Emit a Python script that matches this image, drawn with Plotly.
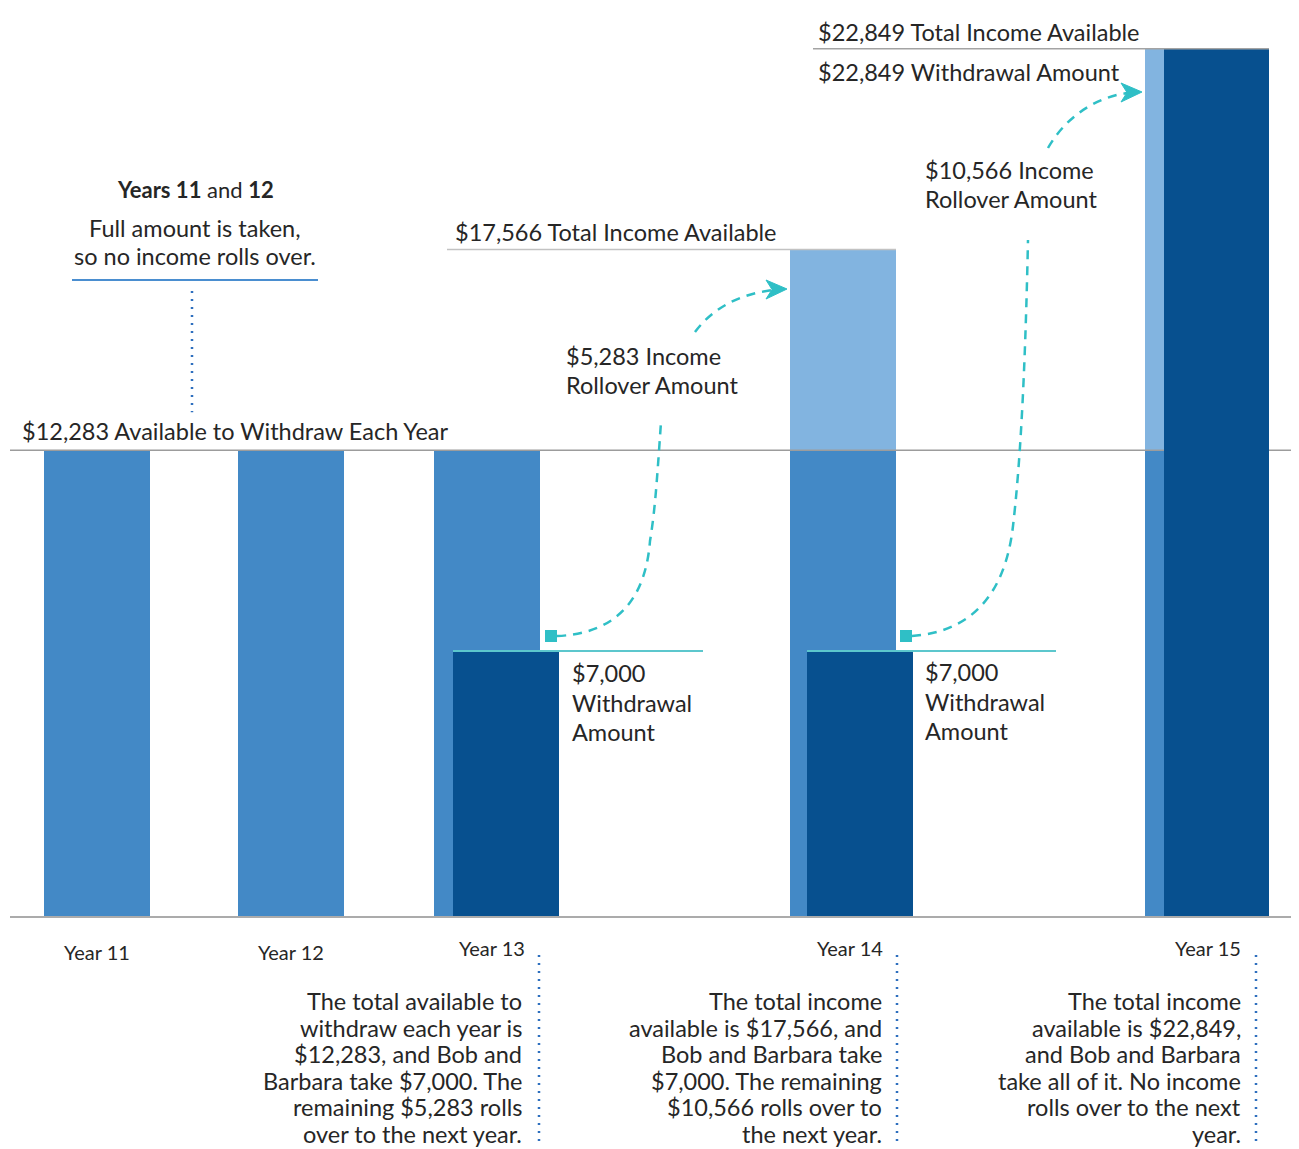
import plotly.graph_objects as go

# ---------------- data ----------------
YEARS = ["Year 11", "Year 12", "Year 13", "Year 14", "Year 15"]
AVAILABLE = [12283, 12283, 12283, 12283, 12283]      # amount available to withdraw each year
ROLLOVER_IN = [0, 0, 0, 5283, 10566]                 # income rolled over from previous year
WITHDRAWAL = [None, None, 7000, 7000, 22849]         # withdrawal amounts shown as separate bars
TOTAL = [a + r for a, r in zip(AVAILABLE, ROLLOVER_IN)]

DESCRIPTIONS = [
    None,
    None,
    "The total available to\nwithdraw each year is\n$12,283, and Bob and\nBarbara take $7,000. The\nremaining $5,283 rolls\nover to the next year.",
    "The total income\navailable is $17,566, and\nBob and Barbara take\n$7,000. The remaining\n$10,566 rolls over to\nthe next year.",
    "The total income\navailable is $22,849,\nand Bob and Barbara\ntake all of it. No income\nrolls over to the next\nyear.",
]

# ---------------- layout constants ----------------
W, H = 1299, 1149
OFF = 8                # default page body margin
BASE_PX = 917          # screen row of the zero line
SCALE = 0.038          # pixels per dollar


def yd(px):
    """screen row -> data value"""
    return (BASE_PX - px) / SCALE


def ypx(v):
    """data value -> screen row"""
    return BASE_PX - v * SCALE


Y_MAX = yd(OFF)
Y_MIN = yd(H)

BAR_X = [97, 291, 487, 843, 1198]
BAR_W = 106
DARK_OFF = [0, 0, 19, 17, 18.5]
DARK_W = [106, 106, 106, 106, 105]

C_MED = "#4389C6"
C_LIGHT = "#82B4E0"
C_DARK = "#07508F"
C_TEAL = "#2FBFC6"
C_TEAL_LINE = "#5CC7CD"
C_TEXT = "#262626"
FONT = "Lato, 'Open Sans', sans-serif"
FS = 23.5

fig = go.Figure()

# base bars
fig.add_bar(x=BAR_X, y=AVAILABLE, width=BAR_W, marker=dict(color=C_MED, line=dict(width=0)),
            hoverinfo="skip")
# rollover bars on top
ri = [i for i, r in enumerate(ROLLOVER_IN) if r > 0]
fig.add_bar(x=[BAR_X[i] for i in ri], y=[ROLLOVER_IN[i] for i in ri], base=[AVAILABLE[i] for i in ri],
            width=BAR_W, marker=dict(color=C_LIGHT, line=dict(width=0)), hoverinfo="skip")
# withdrawal bars
wi = [i for i, w in enumerate(WITHDRAWAL) if w]
dark_x = [BAR_X[i] + DARK_OFF[i] for i in wi]
fig.add_bar(x=dark_x, y=[WITHDRAWAL[i] for i in wi], width=[DARK_W[i] for i in wi],
            marker=dict(color=C_DARK, line=dict(width=0)), hoverinfo="skip")

shapes = []


def hline(x0, x1, y, color, width=1.5, dash=None):
    d = dict(type="line", xref="x", yref="y", x0=x0, x1=x1, y0=y, y1=y,
             line=dict(color=color, width=width), layer="above")
    if dash:
        d["line"]["dash"] = dash
    shapes.append(d)


def vline(x, y0, y1, color, width=2.5, dash=None):
    d = dict(type="line", xref="x", yref="y", x0=x, x1=x, y0=y0, y1=y1,
             line=dict(color=color, width=width), layer="above")
    if dash:
        d["line"]["dash"] = dash
    shapes.append(d)


d15_l = dark_x[2] - DARK_W[4] / 2
d15_r = dark_x[2] + DARK_W[4] / 2
d13_l = dark_x[0] - DARK_W[2] / 2
d14_l = dark_x[1] - DARK_W[3] / 2

# 12,283 reference line (hidden behind the Year 15 withdrawal bar)
hline(10, d15_l, AVAILABLE[0], "#9c9c9c", 1.5)
hline(d15_r, W, AVAILABLE[0], "#9c9c9c", 1.5)
# baseline
hline(10, W, 0, "#ababab", 2)
# total lines
hline(447, BAR_X[3] + BAR_W / 2, TOTAL[3], "#c2c2c2", 1.5)
hline(813, d15_r, TOTAL[4], "#a3a3a3", 1.5)
# teal withdrawal lines
hline(d13_l, 703, WITHDRAWAL[2], C_TEAL_LINE, 2)
hline(d14_l, 1056, WITHDRAWAL[3], C_TEAL_LINE, 2)
# blue underline for Years 11-12 note
hline(72, 318, yd(280), "#4A8ED0", 2)
# dotted connectors
vline(192, yd(291), AVAILABLE[0] + 38 / SCALE, "#2E6FBE", 2.5, "2px,6px")
for xx in (539, 897, 1256):
    vline(xx, yd(955), yd(1146), "#2E6FBE", 2.5, "2px,6px")


def P(pts):
    """list of (cmd, [(x, ypx), ...]) -> svg path in data units (one segment per command)"""
    out = []
    for cmd, ps in pts:
        out.append(cmd + " " + " ".join(f"{x:.2f},{yd(y):.2f}" for x, y in ps))
    return " ".join(out)


def teal_path(path, fill=False):
    d = dict(type="path", xref="x", yref="y", path=path, layer="above")
    if fill:
        d.update(fillcolor=C_TEAL, line=dict(color=C_TEAL, width=1))
    else:
        d.update(line=dict(color=C_TEAL, width=2.5, dash="9px,7px"))
    shapes.append(d)


def square(cx, cy, s=12):
    shapes.append(dict(type="rect", xref="x", yref="y", x0=cx - s / 2, x1=cx + s / 2,
                       y0=yd(cy + s / 2), y1=yd(cy - s / 2), fillcolor=C_TEAL,
                       line=dict(width=0), layer="above"))


def arrowhead(tx, ty):
    teal_path(P([("M", [(tx, ty)]), ("L", [(tx - 21, ty - 9)]), ("L", [(tx - 15, ty + 0.5)]),
                 ("L", [(tx - 21, ty + 10)])]) + " Z", fill=True)


# arrow 1: Year 13 rollover -> Year 14
y7 = ypx(WITHDRAWAL[2])
sq1 = y7 - 15
square(551, sq1)
teal_path(P([("M", [(557, sq1)]),
             ("C", [(610, sq1 - 2), (645, sq1 - 30), (650, sq1 - 95)]),
             ("C", [(655, sq1 - 125), (657, 480), (661, 422)])]))
teal_path(P([("M", [(695, 332)]),
             ("C", [(715, 305), (745, 293), (774, 290)])]))
arrowhead(787, 289)

# arrow 2: Year 14 rollover -> Year 15
y7b = ypx(WITHDRAWAL[3])
sq2 = y7b - 15
square(906, sq2)
teal_path(P([("M", [(912, sq2)]),
             ("C", [(970, sq2 - 4), (1005, sq2 - 40), (1013, sq2 - 110)]),
             ("C", [(1020, sq2 - 170), (1025, 380), (1028, 240)])]))
teal_path(P([("M", [(1048, 148)]),
             ("C", [(1065, 118), (1095, 97), (1128, 93)])]))
arrowhead(1142, 92)

annotations = []


def text(x, y_px, s, anchor="left", size=FS, color=C_TEXT):
    shift = {"left": -1, "right": 1, "center": 0}[anchor]
    annotations.append(dict(x=x + shift, y=yd(y_px), xref="x", yref="y", text=s, showarrow=False,
                            xanchor=anchor, yanchor="middle", align=anchor, borderpad=0,
                            font=dict(family=FONT, size=size, color=color)))


def lines(x, y0_px, step, s, anchor="left", size=FS):
    for k, ln in enumerate(s.split("\n")):
        text(x, y0_px + k * step, ln, anchor, size)


y12 = ypx(AVAILABLE[0])
text(22, y12 - 19, f"${AVAILABLE[0]:,} Available to Withdraw Each Year")
text(195, 189, "<b>Years 11</b> and <b>12</b>", "center", 22)
lines(195, 228, 28, "Full amount is taken,\nso no income rolls over.", "center")

t14 = ypx(TOTAL[3])
text(455, t14 - 17, f"${TOTAL[3]:,} Total Income Available")
lines(566, 356, 29, f"${ROLLOVER_IN[3]:,} Income\nRollover Amount")
lines(572, y7 + 22, 29.5, f"${WITHDRAWAL[2]:,}\nWithdrawal\nAmount")
lines(925, y7b + 21, 29.5, f"${WITHDRAWAL[3]:,}\nWithdrawal\nAmount")

t15 = ypx(TOTAL[4])
text(818, t15 - 17, f"${TOTAL[4]:,} Total Income Available")
text(818, t15 + 23, f"${WITHDRAWAL[4]:,} Withdrawal Amount")
lines(925, 170, 29, f"${ROLLOVER_IN[4]:,} Income\nRollover Amount")

# year labels
year_pos = [(97, 952, "center"), (291, 952, "center"), (525, 948, "right"),
            (883, 948, "right"), (1241, 948, "right")]
for (xx, yy, anc), lab in zip(year_pos, YEARS):
    text(xx, yy, lab, anc, 20)

desc_x = [None, None, 522, 882, 1241]
for xx, dsc in zip(desc_x, DESCRIPTIONS):
    if dsc:
        lines(xx, 1001, 26.5, dsc, "right", 23.5)

fig.update_layout(
    width=W - OFF, height=H - OFF,
    margin=dict(l=0, r=0, t=0, b=0),
    paper_bgcolor="white", plot_bgcolor="white",
    barmode="overlay", showlegend=False,
    xaxis=dict(range=[OFF, W], visible=False, fixedrange=True),
    yaxis=dict(range=[Y_MIN, Y_MAX], visible=False, fixedrange=True),
    shapes=shapes, annotations=annotations,
    font=dict(family=FONT, color=C_TEXT),
)

fig.write_html("out.html", config={"displayModeBar": False})
